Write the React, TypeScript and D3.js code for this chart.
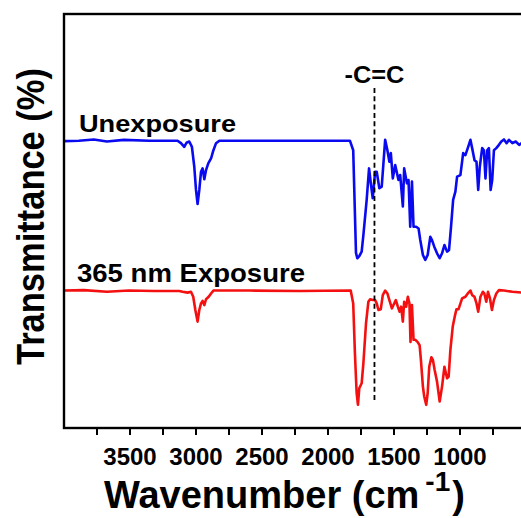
import React from "react";
import * as d3 from "d3";

// Wavenumbers (cm^-1) and transmittance (a.u., stacked)
const unexposedWn = [4000,3888,3774,3675,3546,3355,3165,3140,3114,3089,3072,3051,3031,3013,3000,2988,2975,2962,2950,2937,2924,2907,2886,2868,2848,2823,2595,2214,1834,1809,1788,1778,1763,1745,1732,1707,1689,1674,1661,1643,1631,1611,1593,1567,1550,1535,1524,1509,1491,1466,1453,1433,1423,1402,1390,1377,1364,1352,1332,1314,1301,1281,1263,1245,1225,1212,1195,1174,1154,1136,1118,1098,1083,1068,1052,1035,1022,997,976,959,938,921,908,890,875,862,850,832,819,807,794,781,768,756,743,725,705,687,667,647,629,603,578,552,532,400];
const unexposedT = [69.3,69.4,69.7,69.2,69.6,69.4,69.4,69.4,68.8,67.9,68.9,69.2,67.9,63.1,57.5,54.1,57.5,61.9,62.7,60.1,62.3,63.9,65.1,67.1,68.8,69.4,69.4,69.4,69.4,67.1,42.3,41.0,41.5,42.6,46.6,55.1,62.7,58.7,55.5,61.9,61.9,57.9,58.3,69.6,67.1,64.3,66.4,60.3,63.5,59.9,61.1,53.5,62.7,59.1,59.9,48.6,59.5,48.6,48.6,48.2,45.4,41.8,40.6,41.8,46.2,45.4,43.8,42.2,41.0,42.2,44.2,42.6,43.0,48.6,55.1,57.1,60.7,61.1,66.4,65.9,67.9,69.6,67.6,64.7,64.3,57.5,63.1,67.6,67.1,60.3,67.1,67.6,57.5,59.9,67.1,67.6,68.4,69.2,69.7,68.8,69.6,68.8,69.2,68.4,68.8,68.9];

const exposedWn = [4000,3850,3675,3508,3317,3127,3102,3064,3038,3021,3005,2988,2975,2962,2950,2937,2924,2904,2886,2868,2595,2214,1828,1809,1796,1783,1773,1763,1745,1732,1712,1694,1681,1661,1643,1631,1618,1600,1585,1567,1550,1535,1516,1504,1486,1471,1458,1446,1433,1423,1408,1395,1383,1375,1364,1352,1339,1322,1306,1296,1281,1271,1256,1245,1233,1217,1205,1192,1174,1154,1136,1118,1098,1086,1073,1055,1040,1027,1011,984,959,941,921,908,890,875,862,845,827,816,801,788,773,758,743,725,705,667,603,532,400];
const exposedT = [33.2,33.3,32.9,33.2,33.1,33.1,32.9,32.7,32.9,31.7,28.5,25.7,28.5,30.1,30.7,29.7,31.1,31.7,32.5,33.2,33.2,33.1,33.2,30.1,18.0,8.4,5.6,9.6,10.8,15.6,25.3,30.5,31.1,30.9,30.9,30.1,28.5,28.7,32.1,33.2,32.5,30.9,28.9,29.7,30.9,29.3,28.1,29.3,25.7,30.5,29.3,31.7,30.1,20.8,29.7,21.3,21.3,20.8,20.0,16.4,10.0,7.6,5.6,8.4,14.8,17.1,16.4,14.0,11.2,6.4,10.0,14.8,12.0,12.4,18.8,24.5,26.9,28.7,28.7,31.3,31.7,32.5,33.2,32.1,31.7,30.1,28.1,31.7,32.9,32.5,30.5,32.9,31.3,28.5,30.9,32.5,33.3,33.2,32.9,32.7,32.9];

const majorTicks = [3500, 3000, 2500, 2000, 1500, 1000, 500];
const minorTicks = [3750, 3250, 2750, 2250, 1750, 1250, 750];
const ccPosition = 1648;
const seriesLabels = ["Unexposure", "365 nm Exposure"];

const FONT = "'Liberation Sans', Arial, Helvetica, sans-serif";

export default function App() {
  const W = 521, H = 518;
  const left = 64, right = 539.2, top = 14, bottom = 428;
  const x = d3.scaleLinear().domain([4000, 400]).range([left, right]);
  const y = d3.scaleLinear().domain([0, 100]).range([bottom, top]);

  const line = d3
    .line<[number, number]>()
    .x((d) => x(d[0]))
    .y((d) => y(d[1]));

  const blue = unexposedWn.map((w, i) => [w, unexposedT[i]] as [number, number]);
  const red = exposedWn.map((w, i) => [w, exposedT[i]] as [number, number]);

  return (
    <svg
      width={W}
      height={H}
      style={{ position: "absolute", left: 0, top: 0, background: "#fff" }}
      fontFamily={FONT}
      fontWeight="bold"
    >
      <rect x={0} y={0} width={W} height={H} fill="#fff" />
      <defs>
        <clipPath id="plotclip">
          <rect x={left} y={top} width={right - left} height={bottom - top} />
        </clipPath>
      </defs>

      <g clipPath="url(#plotclip)">
        <path d={line(blue) || ""} fill="none" stroke="#0a0af0" strokeWidth={2.6} strokeLinejoin="round" />
        <path d={line(red) || ""} fill="none" stroke="#f41010" strokeWidth={2.6} strokeLinejoin="round" />
      </g>

      {/* C=C marker */}
      <line
        x1={x(ccPosition)}
        x2={x(ccPosition)}
        y1={88}
        y2={401}
        stroke="#000"
        strokeWidth={1.8}
        strokeDasharray="5,3.3"
      />
      <text x={x(ccPosition)} y={83} fontSize={23} textAnchor="middle" textLength={60} lengthAdjust="spacingAndGlyphs">
        -C=C
      </text>

      {/* series labels */}
      <text x={79} y={132} fontSize={24} textLength={157} lengthAdjust="spacingAndGlyphs">
        {seriesLabels[0]}
      </text>
      <text x={77} y={282} fontSize={25} textLength={228} lengthAdjust="spacingAndGlyphs">
        {seriesLabels[1]}
      </text>

      {/* frame */}
      <rect x={left} y={top} width={right - left} height={bottom - top} fill="none" stroke="#000" strokeWidth={2.4} />

      {/* ticks */}
      {[...majorTicks, ...minorTicks].map((t) => (
        <line key={"t" + t} x1={x(t)} x2={x(t)} y1={bottom} y2={bottom + 7} stroke="#000" strokeWidth={2} />
      ))}
      {majorTicks
        .filter((t) => x(t) < W - 20)
        .map((t) => (
          <text key={"l" + t} x={x(t)} y={465} fontSize={24} textAnchor="middle">
            {t}
          </text>
        ))}

      {/* x title */}
      <text x={104} y={508} fontSize={38}>
        Wavenumber (cm
        <tspan dx={6} dy={-17} fontSize={28}>-1</tspan>
        <tspan dx={2} dy={17} fontSize={38}>)</tspan>
      </text>

      {/* y title */}
      <text
        transform="translate(43.5,216.5) rotate(-90)"
        fontSize={39}
        textAnchor="middle"
        textLength={297}
        lengthAdjust="spacingAndGlyphs"
      >
        Transmittance (%)
      </text>
    </svg>
  );
}
